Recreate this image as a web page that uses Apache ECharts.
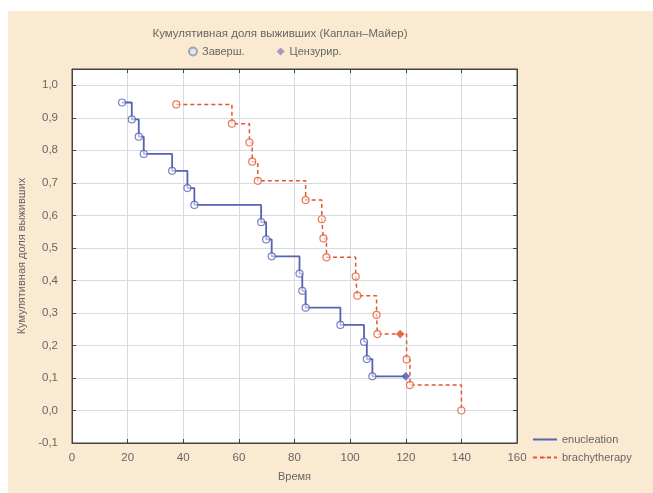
<!DOCTYPE html>
<html>
<head>
<meta charset="utf-8">
<script src="https://cdn.jsdelivr.net/npm/echarts@6/dist/echarts.min.js"></script>
<style>
html,body{margin:0;padding:0;background:#ffffff;}
#bg{position:absolute;left:8px;top:11px;width:645px;height:482px;background:#fbead2;}
#chart{position:absolute;left:0;top:0;width:653px;height:493px;}
</style>
</head>
<body>
<div id="bg"></div>
<div id="chart"></div>
<script>
// Enucleation (Kaplan-Meier), censored flag 1 = censored observation
var enucTime = [18, 21.5, 24, 25.8, 36, 41.5, 44, 68, 69.8, 71.8, 81.8, 82.8, 84, 96.5, 105, 106, 108, 120];
var enucSurv = [0.947, 0.895, 0.842, 0.789, 0.737, 0.684, 0.632, 0.579, 0.526, 0.474, 0.421, 0.368, 0.316, 0.263, 0.211, 0.158, 0.105, 0.105];
var enucCens = [0, 0, 0, 0, 0, 0, 0, 0, 0, 0, 0, 0, 0, 0, 0, 0, 0, 1];

// Brachytherapy
var brachyTime = [37.5, 57.5, 63.8, 64.8, 66.8, 84, 89.8, 90.4, 91.5, 102, 102.6, 109.5, 109.8, 118, 120.3, 121.5, 140];
var brachySurv = [0.941, 0.882, 0.824, 0.765, 0.706, 0.647, 0.588, 0.529, 0.471, 0.412, 0.353, 0.294, 0.235, 0.235, 0.157, 0.078, 0.0];
var brachyCens = [0, 0, 0, 0, 0, 0, 0, 0, 0, 0, 0, 0, 0, 1, 0, 0, 0];

var xTicks = [0, 20, 40, 60, 80, 100, 120, 140, 160];
var yTicks = [-0.1, 0.0, 0.1, 0.2, 0.3, 0.4, 0.5, 0.6, 0.7, 0.8, 0.9, 1.0];

var titleText = 'Кумулятивная доля выживших (Каплан–Майер)';
var yName = 'Кумулятивная доля выживших';
var xName = 'Время';
var names = ['enucleation', 'brachytherapy'];
var markNames = ['Заверш.', 'Цензурир.'];

var blue = '#5563b4';
var red = '#e5562e';
var txt = '#666666';
var font = 'Liberation Sans, Arial, sans-serif';

function pairs(t, s) { return t.map(function (v, i) { return [v, s[i]]; }); }
function marks(t, s, c, flag, color) {
  var out = [];
  for (var i = 0; i < t.length; i++) {
    if (c[i] === flag) out.push({ value: [t[i], s[i]], itemStyle: { color: flag ? color : 'rgba(255,255,255,0.7)', borderColor: color, borderWidth: 1.2 } });
  }
  return out;
}

var yMax = 1.05;
var chart = echarts.init(document.getElementById('chart'), null, { renderer: 'canvas' });
chart.setOption({
  backgroundColor: 'transparent',
  animation: false,
  textStyle: { fontFamily: font },
  title: {
    text: titleText, left: 275, top: 23, textAlign: 'center',
    textStyle: { fontSize: 11.5, fontWeight: 'normal', color: txt, fontFamily: font }
  },
  legend: [
    {
      data: markNames, left: 183, top: 41, itemWidth: 8, itemHeight: 8, itemGap: 32,
      textStyle: { fontSize: 11, color: txt, fontFamily: font }
    },
    {
      data: names, orient: 'vertical', left: 527, top: 429, itemWidth: 24, itemHeight: 2, itemGap: 7,
      textStyle: { fontSize: 11, color: txt, fontFamily: font }
    }
  ],
  grid: { left: 72, right: 136, top: 69, bottom: 50, show: true, backgroundColor: '#ffffff', borderColor: '#444', borderWidth: 1 },
  xAxis: [
    {
      type: 'value', min: xTicks[0], max: xTicks[xTicks.length - 1], interval: 20,
      name: xName, nameLocation: 'middle', nameGap: 28,
      nameTextStyle: { fontSize: 11, color: txt },
      axisLine: { show: true, onZero: false, lineStyle: { color: '#444' } },
      axisTick: { show: true, inside: true, length: 4, lineStyle: { color: '#444' } },
      axisLabel: { fontSize: 11.5, color: txt, margin: 9 },
      splitLine: { show: true, lineStyle: { color: '#d6dae2', width: 1 } }
    },
    {
      type: 'value', position: 'top', min: xTicks[0], max: xTicks[xTicks.length - 1], interval: 20,
      axisLine: { show: true, onZero: false, lineStyle: { color: '#444' } },
      axisTick: { show: true, inside: true, length: 4, lineStyle: { color: '#444' } },
      axisLabel: { show: false }, splitLine: { show: false }
    }
  ],
  yAxis: [
    {
      type: 'value', min: yTicks[0], max: yMax,
      name: yName, nameLocation: 'middle', nameGap: 45,
      nameTextStyle: { fontSize: 11, color: txt },
      axisLine: { show: true, onZero: false, lineStyle: { color: '#444' } },
      axisTick: { show: true, inside: true, length: 4, customValues: yTicks, lineStyle: { color: '#444' } },
      axisLabel: {
        fontSize: 11.5, color: txt, margin: 14, customValues: yTicks,
        formatter: function (v) { return v.toFixed(1).replace('.', ','); }
      },
      splitLine: { show: true, lineStyle: { color: '#d6dae2', width: 1 } }
    },
    {
      type: 'value', position: 'right', min: yTicks[0], max: yMax,
      axisLine: { show: true, onZero: false, lineStyle: { color: '#444' } },
      axisTick: { show: true, inside: true, length: 4, customValues: yTicks, lineStyle: { color: '#444' } },
      axisLabel: { show: false }, splitLine: { show: false }
    }
  ],
  series: [
    {
      name: names[0], type: 'line', step: 'end', data: pairs(enucTime, enucSurv),
      symbol: 'none', lineStyle: { color: blue, width: 1.8 }, itemStyle: { color: blue }, z: 3
    },
    {
      name: names[1], type: 'line', step: 'end', data: pairs(brachyTime, brachySurv),
      symbol: 'none', lineStyle: { color: red, width: 1.5, type: [4, 3] }, itemStyle: { color: red }, z: 3
    },
    {
      name: markNames[0], type: 'scatter', symbol: 'circle', symbolSize: 7,
      itemStyle: { color: '#dfe3ef', borderColor: '#8a93b0', borderWidth: 1.2 },
      data: marks(enucTime, enucSurv, enucCens, 0, blue).concat(marks(brachyTime, brachySurv, brachyCens, 0, red)), z: 4
    },
    {
      name: markNames[1], type: 'scatter', symbol: 'diamond', symbolSize: 7,
      itemStyle: { color: '#a07cc0' },
      data: marks(enucTime, enucSurv, enucCens, 1, blue).concat(marks(brachyTime, brachySurv, brachyCens, 1, red)), z: 4
    }
  ]
});
</script>
</body>
</html>
